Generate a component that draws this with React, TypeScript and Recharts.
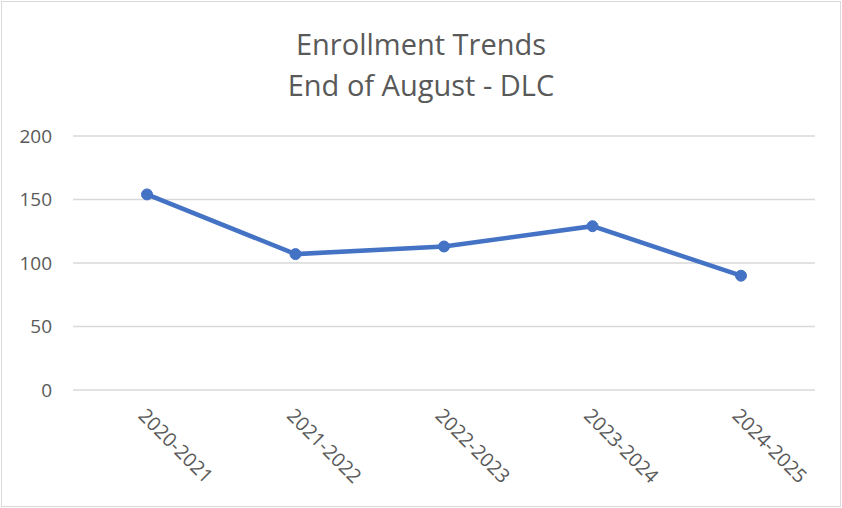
import { LineChart, Line, XAxis, YAxis, CartesianGrid } from 'recharts';

const years = ['2020-2021', '2021-2022', '2022-2023', '2023-2024', '2024-2025'];
const enrollment = [154, 107, 113, 129, 90];
const yTicks = [0, 50, 100, 150, 200];

const data = years.map((year, i) => ({ year, enrollment: enrollment[i] }));

const FONT = '"Open Sans", "Noto Sans", sans-serif';
const GREY = '#595959';

export default function App() {
    return (
        <div
            style={{
                position: 'absolute',
                left: 0,
                top: 0,
                width: 842,
                height: 508,
                background: '#fff',
                fontFamily: FONT,
            }}
        >
            <div
                style={{
                    position: 'absolute',
                    left: 1,
                    top: 1,
                    width: 838,
                    height: 504,
                    border: '1px solid #d9d9d9',
                }}
            />
            <div
                style={{
                    position: 'absolute',
                    left: 0,
                    top: 23,
                    width: 842,
                    textAlign: 'center',
                    color: GREY,
                    fontSize: 29,
                    lineHeight: '41px',
                }}
            >
                Enrollment Trends
                <br />
                End of August - DLC
            </div>
            <div style={{ position: 'absolute', left: 0, top: 0 }}>
                <LineChart
                    width={842}
                    height={508}
                    data={data}
                    margin={{ top: 136, right: 27, bottom: 0, left: 0 }}
                >
                    <CartesianGrid vertical={false} stroke="#d9d9d9" strokeWidth={1.5} />
                    <XAxis
                        dataKey="year"
                        axisLine={false}
                        tickLine={false}
                        tickSize={0}
                        tickMargin={17}
                        height={118}
                        interval={0}
                        padding={{ left: 74, right: 74 }}
                        angle={45}
                        textAnchor="start"
                        tick={{ fill: GREY, fontSize: 19.5, fontFamily: FONT }}
                    />
                    <YAxis
                        domain={[0, 200]}
                        ticks={yTicks}
                        axisLine={false}
                        tickLine={false}
                        tickSize={0}
                        tickMargin={21}
                        width={73}
                        tick={{ fill: GREY, fontSize: 19, fontFamily: FONT }}
                    />
                    <Line
                        type="linear"
                        dataKey="enrollment"
                        stroke="#4472C4"
                        strokeWidth={4.5}
                        dot={{ r: 5.5, fill: '#4472C4', stroke: '#4472C4', strokeWidth: 1 }}
                        isAnimationActive={false}
                    />
                </LineChart>
            </div>
        </div>
    );
}
